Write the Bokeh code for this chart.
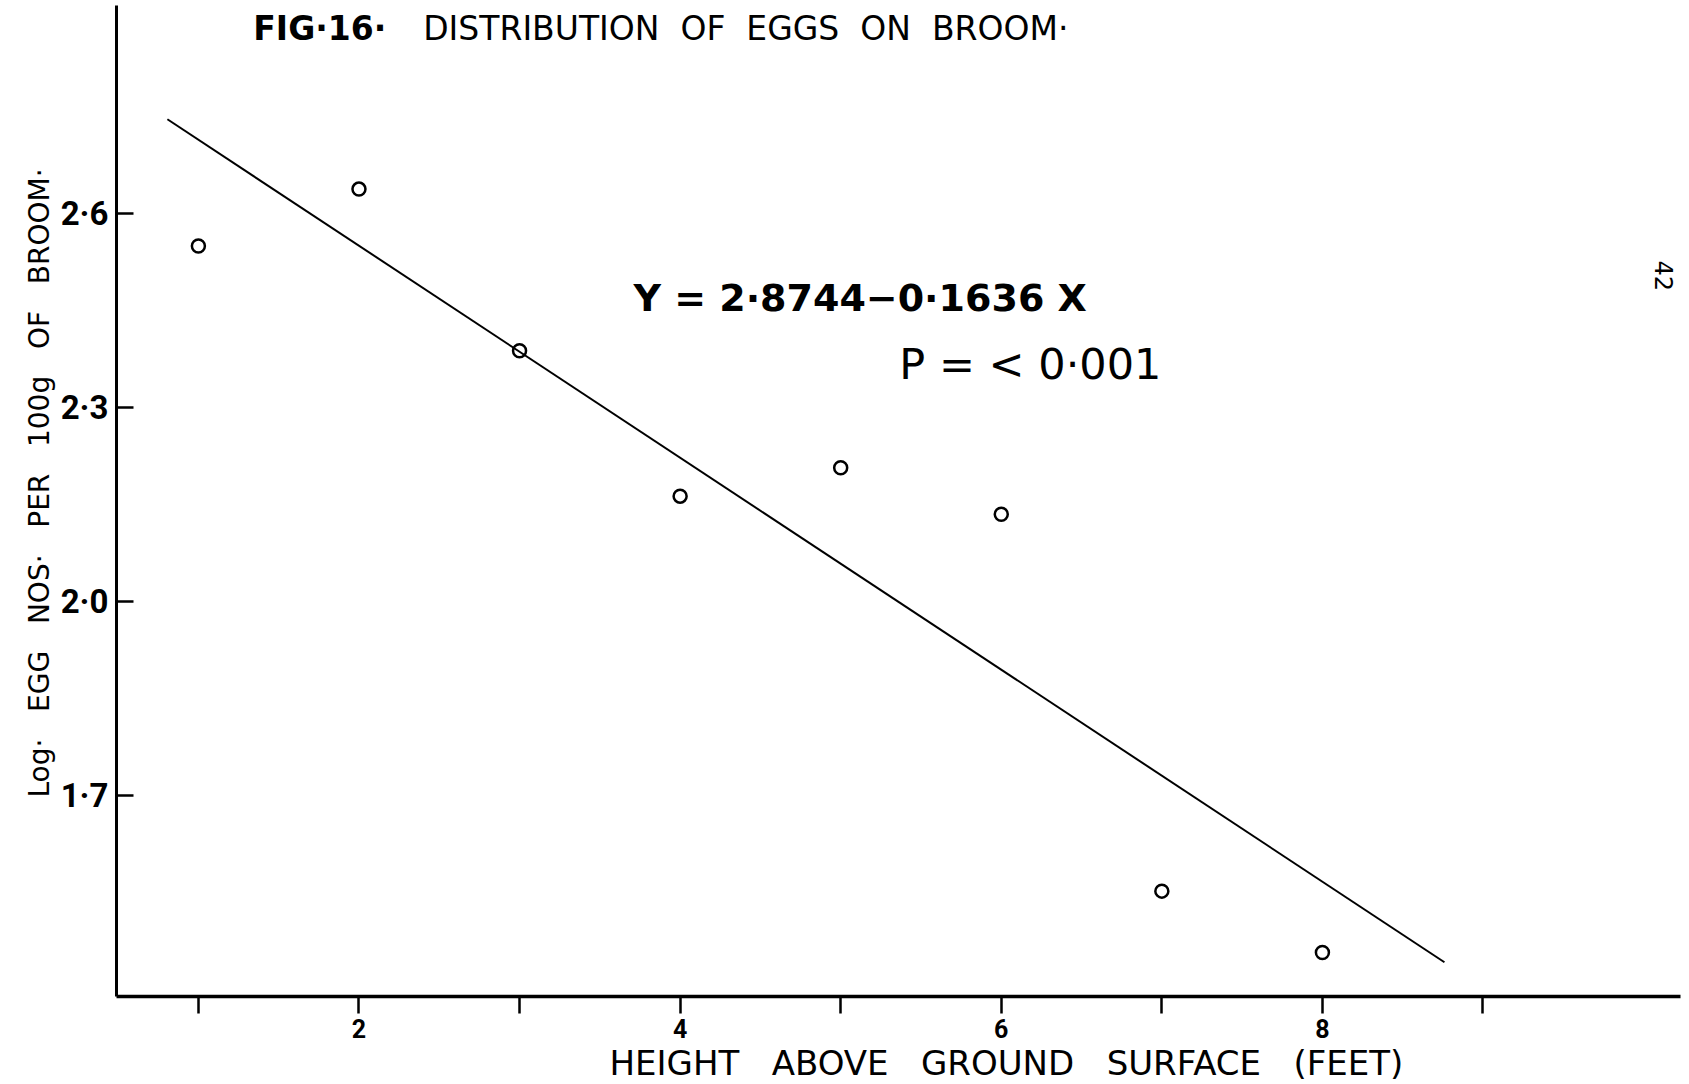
import math
from bokeh.plotting import figure
from bokeh.models import Range1d, FixedTicker, Label, CustomJSTickFormatter, Title
from bokeh.embed import file_html
from bokeh.resources import INLINE

# ---- data ----
heights = [1, 2, 3, 4, 5, 6, 7, 8]
log_eggs = [2.550, 2.638, 2.388, 2.163, 2.207, 2.135, 1.552, 1.457]

# regression line end points (Y = 2.8744 - 0.1636 X)
line_x = [0.807, 8.76]
line_y = [2.746, 1.442]

x_major_ticks = [2, 4, 6, 8]
x_minor_ticks = [1, 3, 5, 7, 9]
y_ticks = [1.7, 2.0, 2.3, 2.6]

GAP2 = " \u00a0"
GAP3 = " \u00a0\u00a0"
title_fig = "FIG·16·"
title_rest = GAP2.join(["DISTRIBUTION", "OF", "EGGS", "ON", "BROOM·"])
y_label = GAP3.join(["Log·", "EGG", "NOS·", "PER", "100g", "OF", "BROOM·"])
x_label = GAP3.join(["HEIGHT", "ABOVE", "GROUND", "SURFACE", "(FEET)"])
eq_text = "Y = 2·8744−0·1636 X"
p_text = "P = < 0·001"
page_no = "42"

FONT = "DejaVu Sans"

p = figure(width=1689, height=1084,
           x_range=Range1d(0.49, 10.23), y_range=Range1d(1.389, 2.922),
           output_backend="svg", toolbar_location=None,
           min_border_left=116, min_border_right=9,
           min_border_top=5, min_border_bottom=88)
p.grid.visible = False
p.outline_line_color = None
p.background_fill_color = "white"
p.border_fill_color = "white"

# x axis
xa = p.xaxis[0]
xa.ticker = FixedTicker(ticks=x_major_ticks, minor_ticks=x_minor_ticks)
xa.axis_line_width = 3.5
xa.axis_line_color = "black"
xa.major_tick_in = 0
xa.major_tick_out = 17
xa.minor_tick_in = 0
xa.minor_tick_out = 17
xa.major_tick_line_width = 2.5
xa.minor_tick_line_width = 2.5
xa.major_tick_line_color = "black"
xa.minor_tick_line_color = "black"
xa.major_label_standoff = 5
xa.major_label_text_font = "Roboto"
xa.major_label_text_font_style = "bold"
xa.major_label_text_font_size = "25px"
xa.major_label_text_color = "black"

# y axis
ya = p.yaxis[0]
ya.ticker = FixedTicker(ticks=y_ticks)
ya.formatter = CustomJSTickFormatter(code="return tick.toFixed(1).replace('.', '\u00b7');")
ya.axis_line_width = 3
ya.axis_line_color = "black"
ya.major_tick_in = 17
ya.major_tick_out = 0
ya.minor_tick_line_color = None
ya.major_tick_line_width = 2.5
ya.major_tick_line_color = "black"
ya.major_label_standoff = 8
ya.major_label_text_font = "Roboto"
ya.major_label_text_font_style = "bold"
ya.major_label_text_font_size = "33px"
ya.major_label_text_color = "black"

# axis titles (side titles, offset to sit where the original has them)
p.add_layout(Title(text=x_label, align="left", offset=493, standoff=0,
                   text_font=FONT, text_font_style="normal",
                   text_font_size="34px", text_color="black"), "below")
p.add_layout(Title(text=y_label, align="left", offset=199, standoff=4,
                   text_font=FONT, text_font_style="normal",
                   text_font_size="28px", text_color="black"), "left")

# marks
p.line(line_x, line_y, line_width=2, color="black")
p.scatter(heights, log_eggs, marker="circle", size=13, fill_color=None,
          line_color="black", line_width=2.5)

# texts
p.add_layout(Label(x=1.342, y=2.887, text=title_fig, text_font=FONT,
                   text_font_style="bold", text_font_size="33px",
                   text_color="black", text_baseline="alphabetic"))
p.add_layout(Label(x=2.40, y=2.887, text=title_rest, text_font=FONT,
                   text_font_size="33px", text_color="black",
                   text_baseline="alphabetic"))
p.add_layout(Label(x=3.709, y=2.470, text=eq_text, text_font=FONT,
                   text_font_style="bold", text_font_size="38px",
                   text_color="black", text_baseline="alphabetic"))
p.add_layout(Label(x=5.365, y=2.368, text=p_text, text_font=FONT,
                   text_font_size="43px", text_color="black",
                   text_baseline="alphabetic"))
p.add_layout(Label(x=10.13, y=2.504, text=page_no, text_font=FONT,
                   text_font_size="24px", text_color="black",
                   angle=-math.pi / 2, text_align="center",
                   text_baseline="middle"))

open("out.html", "w").write(file_html(p, INLINE))
